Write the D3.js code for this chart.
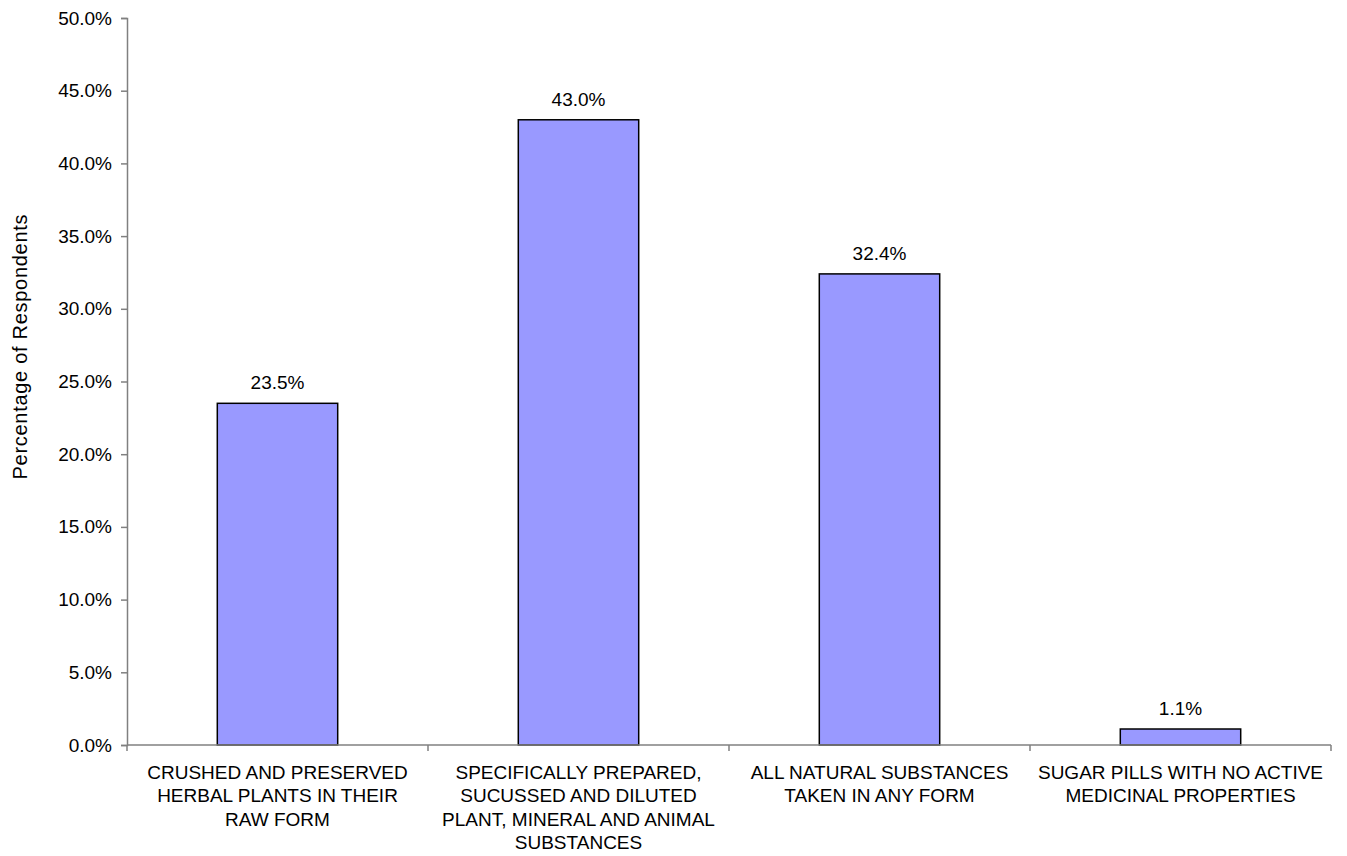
<!DOCTYPE html>
<html><head><meta charset="utf-8">
<script src="https://cdn.jsdelivr.net/npm/d3@7"></script>
<style>body{margin:0;background:#fff}svg{display:block}text{font-family:"Liberation Sans",Arial,sans-serif;fill:#000}</style>
</head><body>
<svg id="c" width="1347" height="856"></svg>
<script>
const categories = [
  ["CRUSHED AND PRESERVED","HERBAL PLANTS IN THEIR","RAW FORM"],
  ["SPECIFICALLY PREPARED,","SUCUSSED AND DILUTED","PLANT, MINERAL AND ANIMAL","SUBSTANCES"],
  ["ALL NATURAL SUBSTANCES","TAKEN IN ANY FORM"],
  ["SUGAR PILLS WITH NO ACTIVE","MEDICINAL PROPERTIES"]
];
const values = [23.5, 43.0, 32.4, 1.1];
const yTicks = [0,5,10,15,20,25,30,35,40,45,50];
const yTitle = "Percentage of Respondents";

const FS = "19px";
const svg = d3.select("#c");
const L = 127, R = 1331, T = 18, B = 745;
const idx = categories.map((d,i)=>i);
const x = d3.scaleBand().domain(idx).range([L,R]).paddingInner(0.6).paddingOuter(0.3);
const y = d3.scaleLinear().domain([0,50]).range([B,T]);
const axisColor = "#808080";

// y axis
const ya = svg.append("g").attr("transform",`translate(${L},0)`)
  .call(d3.axisLeft(y).tickValues(yTicks).tickSize(6).tickPadding(9).tickFormat(d=>d.toFixed(1)+"%"));
ya.select(".domain").attr("stroke",axisColor).attr("stroke-width",1.5);
ya.selectAll(".tick line").attr("stroke",axisColor).attr("stroke-width",1.5);
ya.selectAll(".tick text").style("font-size",FS).attr("fill","#000").attr("font-family","Liberation Sans, Arial, sans-serif");

// bars
svg.append("g").selectAll("rect").data(values).join("rect")
  .attr("x",(d,i)=>x(i)).attr("width",x.bandwidth())
  .attr("y",d=>y(d)).attr("height",d=>B-y(d))
  .attr("fill","#9999FF").attr("stroke","#000").attr("stroke-width",1.5);

// x axis line and ticks at category boundaries
const step = x.step();
const bounds = d3.range(categories.length+1).map(i=>L + i*step);
svg.append("line").attr("x1",L).attr("x2",R).attr("y1",B).attr("y2",B).attr("stroke",axisColor).attr("stroke-width",1.5);
svg.append("g").selectAll("line").data(bounds).join("line")
  .attr("x1",d=>d).attr("x2",d=>d).attr("y1",B).attr("y2",B+6).attr("stroke",axisColor).attr("stroke-width",1.5);

// value labels
svg.append("g").selectAll("text").data(values).join("text")
  .attr("x",(d,i)=>x(i)+x.bandwidth()/2).attr("y",d=>y(d)-14)
  .attr("text-anchor","middle").style("font-size",FS)
  .text(d=>d.toFixed(1)+"%");

// category labels
const cl = svg.append("g").selectAll("text").data(categories).join("text")
  .attr("text-anchor","middle").style("font-size",FS);
cl.each(function(lines,i){
  const t = d3.select(this);
  lines.forEach((s,j)=>{
    t.append("tspan").attr("x",x(i)+x.bandwidth()/2).attr("y",779+j*23.4).text(s);
  });
});

// y title
svg.append("text").attr("transform",`translate(27,347) rotate(-90)`)
  .attr("text-anchor","middle").style("font-size","20px")
  .attr("textLength",265).attr("lengthAdjust","spacing").text(yTitle);
</script>
</body></html>
